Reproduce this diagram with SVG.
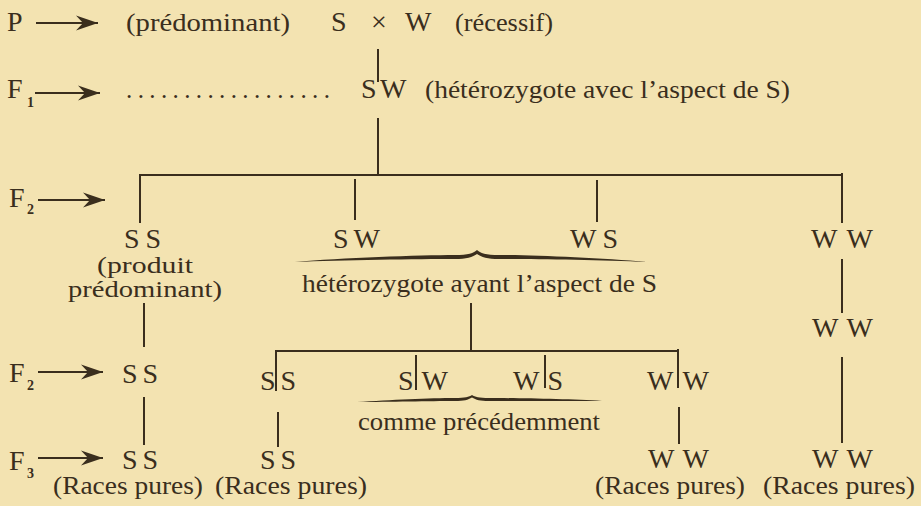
<svg xmlns="http://www.w3.org/2000/svg" width="921" height="506" viewBox="0 0 921 506">
<style>
text{font-family:"Liberation Serif","Times New Roman",serif;fill:#3a2e1d}
.g{font-size:28px}
.t{font-size:25px}
.t2{font-size:23px}
.lab{font-size:28px}
.sub{font-size:14px;font-weight:bold}
.c line{stroke:#3a2e1d;stroke-width:2}
.ar{stroke:#3a2e1d;stroke-width:2;marker-end:url(#ah)}
.br{fill:#3a2e1d}
</style>
<defs>
<marker id="ah" markerUnits="userSpaceOnUse" markerWidth="26" markerHeight="18" refX="22" refY="8" orient="auto" overflow="visible">
<path d="M22,8 L0,0.5 L7,8 L0,15.5 Z" fill="#3a2e1d"/>
</marker>
</defs>
<rect width="921" height="506" fill="#f3e3b1"/>
<g id="labels">
<text class="lab" x="7" y="31">P</text>
<line class="ar" x1="36" y1="23" x2="98" y2="23"/>
<text class="lab" x="7" y="98">F</text><text class="sub" x="27" y="107">1</text>
<line class="ar" x1="35" y1="93" x2="100" y2="93"/>
<text class="lab" x="9" y="207">F</text><text class="sub" x="27" y="214">2</text>
<line class="ar" x1="38" y1="200" x2="105" y2="200"/>
<text class="lab" x="9" y="382">F</text><text class="sub" x="27" y="390">2</text>
<line class="ar" x1="38" y1="372" x2="103" y2="372"/>
<text class="lab" x="9" y="470">F</text><text class="sub" x="27" y="478">3</text>
<line class="ar" x1="38" y1="458" x2="103" y2="458"/>
</g>
<g id="parents">
<text class="t" x="126" y="31" textLength="164" lengthAdjust="spacingAndGlyphs">(prédominant)</text>
<text class="g" x="331" y="31">S</text>
<text class="g" x="371" y="31">×</text>
<text class="g" x="405" y="31">W</text>
<text class="t" x="455" y="31" textLength="98" lengthAdjust="spacingAndGlyphs">(récessif)</text>
</g>
<g id="f1">
<text class="t" x="126" y="98" textLength="204">..................</text>
<text class="g" x="361" y="98">S</text>
<text class="g" x="380" y="98">W</text>
<text class="t" x="425" y="98" textLength="365" lengthAdjust="spacingAndGlyphs">(hétérozygote avec l’aspect de S)</text>
</g>
<g id="f2-ss">
<text class="g" x="124" y="248" textLength="37">S S</text>
<text class="t2" x="97" y="273" textLength="96" lengthAdjust="spacingAndGlyphs">(produit</text>
<text class="t2" x="68" y="297" textLength="154" lengthAdjust="spacingAndGlyphs">prédominant)</text>
</g>
<g id="f2-sw"><text class="g" x="333" y="248" textLength="47">S W</text></g>
<g id="f2-ws"><text class="g" x="570" y="248" textLength="48">W S</text></g>
<g id="f2-ww"><text class="g" x="811" y="248" textLength="62">W W</text></g>
<g id="hetero">
<path class="br" d="M295,262 C340,258 420,255 455,255 C468,255 474,253 477,250 C480,253 486,255 499,255 C534,255 600,258 647,262 C600,260 534,259 499,259 C488,259 481,257 477,254 C473,257 466,259 455,259 C420,259 340,260 295,262 Z"/>
<text class="t" x="302" y="292" textLength="355" lengthAdjust="spacingAndGlyphs">hétérozygote ayant l’aspect de S</text>
</g>
<g id="f2b-ss"><text class="g" x="122" y="383" textLength="36">S S</text></g>
<g id="f2b-s-s"><text class="g" x="260" y="390" textLength="36">S S</text></g>
<g id="f2b-s-w"><text class="g" x="398" y="390" textLength="50">S W</text></g>
<g id="f2b-w-s"><text class="g" x="513" y="390" textLength="50">W S</text></g>
<g id="f2b-w-w"><text class="g" x="647" y="390" textLength="62">W W</text></g>
<g id="f2b-ww"><text class="g" x="812" y="337" textLength="61">W W</text></g>
<g id="comme">
<path class="br" d="M357,402 C390,400 430,398 455,398 C465,398 469,397 472,395 C475,397 479,398 489,398 C515,398 570,399 602,401 C570,401 515,401 489,401 C480,401 476,400 472,397.5 C468,400 464,401 455,401 C430,401 390,402 357,402 Z"/>
<text class="t" x="358" y="430" textLength="242" lengthAdjust="spacingAndGlyphs">comme précédemment</text>
</g>
<g id="f3-ss1"><text class="g" x="122" y="469" textLength="36">S S</text></g>
<g id="f3-ss2"><text class="g" x="260" y="469" textLength="36">S S</text></g>
<g id="f3-ww1"><text class="g" x="648" y="468" textLength="61">W W</text></g>
<g id="f3-ww2"><text class="g" x="812" y="468" textLength="61">W W</text></g>
<g id="races">
<text class="t" x="53" y="494" textLength="150" lengthAdjust="spacingAndGlyphs">(Races pures)</text>
<text class="t" x="215" y="494" textLength="152" lengthAdjust="spacingAndGlyphs">(Races pures)</text>
<text class="t" x="595" y="494" textLength="150" lengthAdjust="spacingAndGlyphs">(Races pures)</text>
<text class="t" x="763" y="494" textLength="152" lengthAdjust="spacingAndGlyphs">(Races pures)</text>
</g>
<g id="connectors" class="c">
<line x1="378" y1="49" x2="378" y2="82"/>
<line x1="378" y1="118" x2="378" y2="175"/>
<line x1="140" y1="175" x2="842" y2="175"/>
<line x1="140" y1="174" x2="140" y2="223"/>
<line x1="355" y1="179" x2="355" y2="220"/>
<line x1="597" y1="180" x2="597" y2="222"/>
<line x1="842" y1="173" x2="842" y2="223"/>
<line x1="842" y1="259" x2="842" y2="313"/>
<line x1="842" y1="357" x2="842" y2="443"/>
<line x1="144" y1="303" x2="144" y2="347"/>
<line x1="144" y1="397" x2="144" y2="445"/>
<line x1="471" y1="303" x2="471" y2="351"/>
<line x1="276" y1="351" x2="678" y2="351"/>
<line x1="276" y1="350" x2="276" y2="391"/>
<line x1="416" y1="355" x2="416" y2="390"/>
<line x1="545" y1="355" x2="545" y2="388"/>
<line x1="678" y1="349" x2="678" y2="388"/>
<line x1="278" y1="412" x2="278" y2="447"/>
<line x1="679" y1="407" x2="679" y2="444"/>
</g>
</svg>
